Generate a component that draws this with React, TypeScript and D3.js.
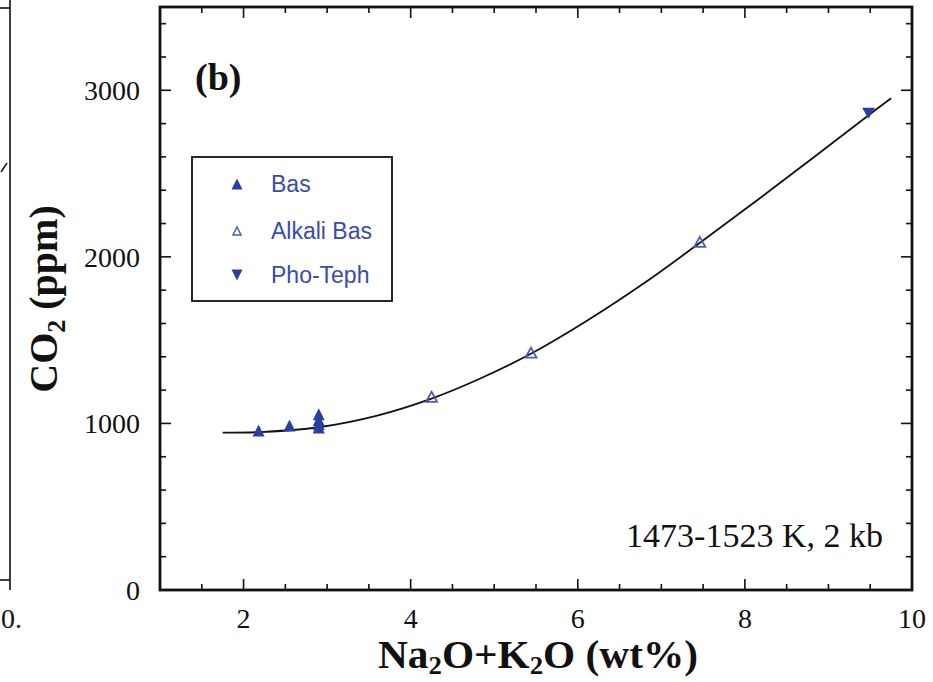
import React from "react";
import * as d3 from "d3";

// Melt compositions: total alkalis (wt%) vs CO2 solubility (ppm)
const basData: [number, number][] = [
  [2.18, 958],
  [2.55, 988],
  [2.9, 975],
  [2.9, 995],
  [2.9, 1020],
  [2.9, 1055],
];
const alkaliBasData: [number, number][] = [
  [4.25, 1160],
  [5.44, 1425],
  [7.46, 2090],
];
const phoTephData: [number, number][] = [[9.48, 2862]];

// Fitted trend through the compositions
const fitCurve: [number, number][] = [
  [1.75, 945],
  [2.2, 948],
  [2.9, 977],
  [3.6, 1047],
  [4.25, 1149],
  [4.8, 1262],
  [5.45, 1421],
  [6.1, 1613],
  [6.8, 1844],
  [7.45, 2080],
  [8.45, 2455],
  [9.5, 2858],
  [9.75, 2952],
];

const xTickLabels = [2, 4, 6, 8, 10];
const yTickLabels = [0, 1000, 2000, 3000];
const legendItems = ["Bas", "Alkali Bas", "Pho-Teph"];

const W = 933;
const H = 682;
const left = 160;
const right = 912;
const top = 7;
const bottom = 590;

const BLUE = "#2b3f9e";
const OPEN_BLUE = "#4b5cb3";
const TEXT_BLUE = "#3a4ca6";
const SERIF = "'Liberation Serif', 'Times New Roman', serif";
const SANS = "'Liberation Sans', Arial, sans-serif";

const upTri = (w: number, h: number) =>
  `M0,${-h / 2}L${w / 2},${h / 2}L${-w / 2},${h / 2}Z`;
const downTri = (w: number, h: number) =>
  `M0,${h / 2}L${w / 2},${-h / 2}L${-w / 2},${-h / 2}Z`;

export default function App() {
  const x = d3.scaleLinear().domain([1, 10]).range([left, right]);
  const y = d3.scaleLinear().domain([0, 3500]).range([bottom, top]);

  const line = d3
    .line<[number, number]>()
    .x((d) => x(d[0]))
    .y((d) => y(d[1]))
    .curve(d3.curveCatmullRom.alpha(0.5));

  const xMinor = d3.range(1.5, 10, 0.5);
  const yMinor = d3.range(200, 3500, 200);
  const isXMajor = (v: number) => Math.abs(v % 2) < 1e-6;
  const isYMajor = (v: number) => Math.abs(v % 1000) < 1e-6;
  const majorLen = 11;
  const minorLen = 6;

  const legendX = 237;
  const legendYs = [184, 231, 275];

  return (
    <svg
      width={W}
      height={H}
      viewBox={`0 0 ${W} ${H}`}
      style={{ position: "absolute", left: 0, top: 0, background: "#fff" }}
    >
      <rect x={0} y={0} width={W} height={H} fill="#fff" />

      {/* neighbouring panel edge */}
      <g stroke="#111" fill="none">
        <line x1={10} y1={0} x2={10} y2={580} strokeWidth={1.6} />
        <line x1={0} y1={8} x2={10} y2={8} strokeWidth={1.6} />
        <line x1={0} y1={580} x2={10} y2={580} strokeWidth={1.6} />
        <line x1={10} y1={580} x2={10} y2={590} strokeWidth={1.6} />
        <path d="M1,172 L7,163" strokeWidth={1.4} />
      </g>
      <text
        x={22}
        y={628}
        textAnchor="end"
        fontFamily={SERIF}
        fontSize={28}
        fill="#111"
      >
        0.
      </text>

      {/* ticks on all four sides */}
      <g stroke="#111" strokeWidth={1.6}>
        {xMinor.map((v) => {
          const len = isXMajor(v) ? majorLen : minorLen;
          return (
            <g key={`xt${v}`}>
              <line x1={x(v)} x2={x(v)} y1={bottom} y2={bottom - len} />
              <line x1={x(v)} x2={x(v)} y1={top} y2={top + len} />
            </g>
          );
        })}
        {yMinor.map((v) => {
          const len = isYMajor(v) ? majorLen : minorLen;
          return (
            <g key={`yt${v}`}>
              <line x1={left} x2={left + len} y1={y(v)} y2={y(v)} />
              <line x1={right} x2={right - len} y1={y(v)} y2={y(v)} />
            </g>
          );
        })}
      </g>

      {/* frame */}
      <rect
        x={left}
        y={top}
        width={right - left}
        height={bottom - top}
        fill="none"
        stroke="#111"
        strokeWidth={2.8}
      />

      {/* tick labels */}
      <g fontFamily={SERIF} fontSize={28} fill="#111">
        {xTickLabels.map((v) => (
          <text key={`xl${v}`} x={x(v)} y={628} textAnchor="middle">
            {v}
          </text>
        ))}
        {yTickLabels.map((v) => (
          <text key={`yl${v}`} x={140} y={y(v) + 10} textAnchor="end">
            {v}
          </text>
        ))}
      </g>

      {/* axis titles */}
      <text
        transform={`translate(57,299) rotate(-90)`}
        textAnchor="middle"
        fontFamily={SERIF}
        fontWeight="bold"
        fontSize={40}
        fill="#111"
      >
        CO
        <tspan fontSize={26} dy={8}>
          2
        </tspan>
        <tspan dy={-8}> (ppm)</tspan>
      </text>
      <text
        x={538}
        y={668}
        textAnchor="middle"
        fontFamily={SERIF}
        fontWeight="bold"
        fontSize={40}
        fill="#111"
        textLength={320}
        lengthAdjust="spacingAndGlyphs"
      >
        Na
        <tspan fontSize={26} dy={6}>
          2
        </tspan>
        <tspan dy={-6}>O+K</tspan>
        <tspan fontSize={26} dy={6}>
          2
        </tspan>
        <tspan dy={-6}>O (wt%)</tspan>
      </text>

      {/* panel label and conditions */}
      <text
        x={195}
        y={90}
        fontFamily={SERIF}
        fontWeight="bold"
        fontSize={38}
        fill="#111"
      >
        (b)
      </text>
      <text
        x={883}
        y={547}
        textAnchor="end"
        fontFamily={SERIF}
        fontSize={34}
        fill="#111"
      >
        1473-1523 K, 2 kb
      </text>

      {/* fitted curve */}
      <path
        d={line(fitCurve) || ""}
        fill="none"
        stroke="#111"
        strokeWidth={1.8}
      />

      {/* data markers */}
      {basData.map((d, i) => (
        <path
          key={`b${i}`}
          d={upTri(12, 12)}
          transform={`translate(${x(d[0])},${y(d[1])})`}
          fill={BLUE}
        />
      ))}
      {alkaliBasData.map((d, i) => (
        <path
          key={`a${i}`}
          d={upTri(11, 10)}
          transform={`translate(${x(d[0])},${y(d[1])})`}
          fill="none"
          stroke={OPEN_BLUE}
          strokeWidth={1.8}
        />
      ))}
      {phoTephData.map((d, i) => (
        <path
          key={`p${i}`}
          d={downTri(13, 11)}
          transform={`translate(${x(d[0])},${y(d[1])})`}
          fill={BLUE}
        />
      ))}

      {/* legend */}
      <rect
        x={192}
        y={157}
        width={200}
        height={144}
        fill="#fff"
        stroke="#111"
        strokeWidth={1.8}
      />
      <path d={upTri(11, 11)} transform={`translate(${legendX},${legendYs[0]})`} fill={BLUE} />
      <path
        d={upTri(8, 8)}
        transform={`translate(${legendX},${legendYs[1]})`}
        fill="none"
        stroke={OPEN_BLUE}
        strokeWidth={1.5}
      />
      <path d={downTri(11, 11)} transform={`translate(${legendX},${legendYs[2]})`} fill={BLUE} />
      <g fontFamily={SANS} fontSize={23} fill={TEXT_BLUE}>
        {legendItems.map((t, i) => (
          <text key={t} x={271} y={legendYs[i] + 8}>
            {t}
          </text>
        ))}
      </g>
    </svg>
  );
}
